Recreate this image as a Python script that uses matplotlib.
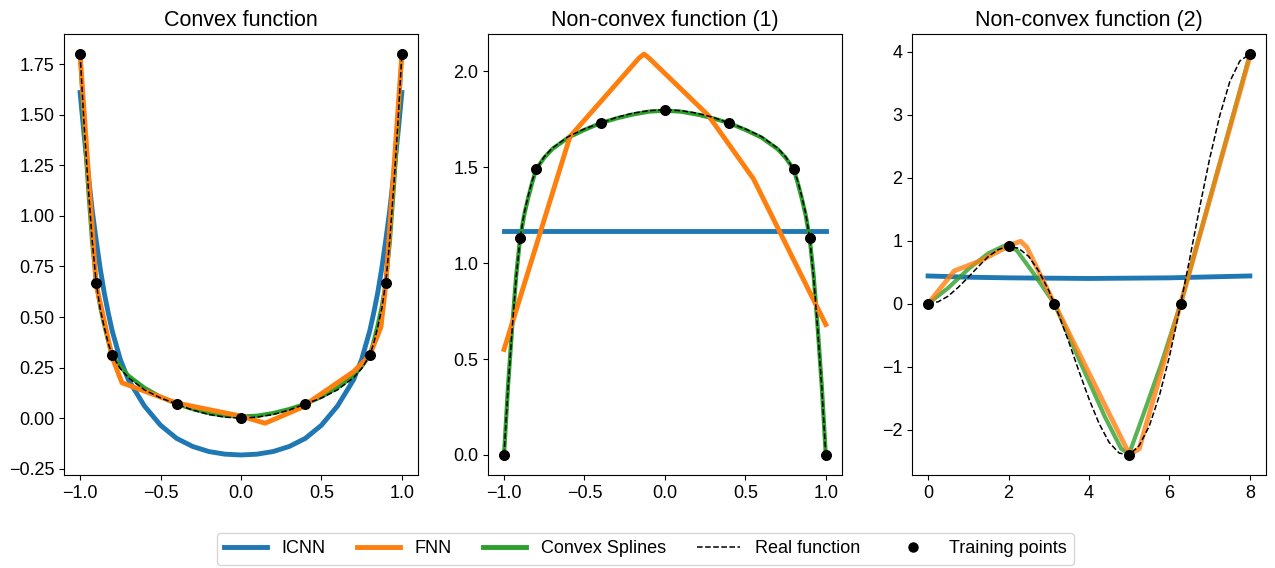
import matplotlib
matplotlib.use("Agg")
import matplotlib.pyplot as plt
from matplotlib.lines import Line2D

plt.rcParams['font.family'] = ['Liberation Sans', 'DejaVu Sans']

# === Panel 1: convex function ===
x1_pts = [-1, -0.9, -0.8, -0.4, 0, 0.4, 0.8, 0.9, 1]
y1_pts = [1.8, 0.67, 0.31, 0.07, 0, 0.07, 0.31, 0.67, 1.8]

x1_real = [-1, -0.975, -0.95, -0.925, -0.9, -0.875, -0.85, -0.825, -0.8, -0.75, -0.7, -0.6, -0.5,
           -0.4, -0.3, -0.2, -0.1, 0, 0.1, 0.2, 0.3, 0.4, 0.5, 0.6, 0.7, 0.75, 0.8, 0.825, 0.85,
           0.875, 0.9, 0.925, 0.95, 0.975, 1]
y1_real = [1.8, 1.45, 1.15, 0.88, 0.67, 0.54, 0.45, 0.37, 0.31, 0.245, 0.2, 0.14, 0.10,
           0.07, 0.04, 0.018, 0.005, 0, 0.005, 0.018, 0.04, 0.07, 0.10, 0.14, 0.2, 0.245, 0.31,
           0.37, 0.45, 0.54, 0.67, 0.88, 1.15, 1.45, 1.8]
y1_spline = [1.8, 1.44, 1.14, 0.87, 0.67, 0.55, 0.46, 0.38, 0.31, 0.255, 0.21, 0.15, 0.105,
             0.07, 0.045, 0.025, 0.012, 0.008, 0.012, 0.025, 0.045, 0.07, 0.105, 0.15, 0.21, 0.255,
             0.31, 0.38, 0.46, 0.55, 0.67, 0.87, 1.14, 1.44, 1.8]

x1_icnn = [-1, -0.975, -0.95, -0.925, -0.9, -0.875, -0.85, -0.825, -0.8, -0.75, -0.7, -0.6, -0.5,
           -0.4, -0.3, -0.2, -0.1, 0, 0.1, 0.2, 0.3, 0.4, 0.5, 0.6, 0.7, 0.75, 0.8, 0.825, 0.85,
           0.875, 0.9, 0.925, 0.95, 0.975, 1]
y1_icnn = [1.61, 1.40, 1.21, 1.03, 0.88, 0.74, 0.62, 0.52, 0.43, 0.29, 0.19, 0.06, -0.035,
           -0.10, -0.14, -0.165, -0.178, -0.182, -0.178, -0.165, -0.14, -0.10, -0.035, 0.06, 0.19,
           0.29, 0.43, 0.52, 0.62, 0.74, 0.88, 1.03, 1.21, 1.40, 1.61]

x1_fnn = [-1, -0.9, -0.8, -0.74, -0.4, 0.0, 0.15, 0.37, 0.7, 0.8, 0.87, 0.9, 1.0]
y1_fnn = [1.8, 0.66, 0.30, 0.175, 0.075, 0.01, -0.025, 0.05, 0.23, 0.31, 0.45, 0.66, 1.8]

# === Panel 2: non-convex function (1) ===
x2_pts = [-1, -0.9, -0.8, -0.4, 0, 0.4, 0.8, 0.9, 1]
y2_pts = [0, 1.13, 1.49, 1.73, 1.8, 1.73, 1.49, 1.13, 0]

x2_real = x1_real
y2_real = [0, 0.35, 0.65, 0.92, 1.13, 1.26, 1.35, 1.43, 1.49, 1.555, 1.6, 1.66, 1.70,
           1.73, 1.76, 1.782, 1.795, 1.8, 1.795, 1.782, 1.76, 1.73, 1.70, 1.66, 1.6, 1.555, 1.49,
           1.43, 1.35, 1.26, 1.13, 0.92, 0.65, 0.35, 0]
y2_spline = [0, 0.36, 0.66, 0.93, 1.13, 1.25, 1.34, 1.42, 1.49, 1.55, 1.595, 1.655, 1.695,
             1.73, 1.755, 1.775, 1.79, 1.795, 1.79, 1.775, 1.755, 1.73, 1.695, 1.655, 1.595, 1.55,
             1.49, 1.42, 1.34, 1.25, 1.13, 0.93, 0.66, 0.36, 0]

x2_icnn = [-1, 1]
y2_icnn = [1.17, 1.17]

x2_fnn = [-1, -0.59, -0.16, -0.13, -0.10, 0.27, 0.55, 1.0]
y2_fnn = [0.55, 1.66, 2.07, 2.09, 2.07, 1.77, 1.44, 0.68]

# === Panel 3: non-convex function (2) ===
x3_pts = [0, 2, 3.14, 5, 6.28, 8]
y3_pts = [0, 0.91, 0, -2.40, 0, 3.96]

x3_real = [0, 0.25, 0.5, 0.75, 1.0, 1.25, 1.5, 1.75, 2.0, 2.25, 2.5, 2.75, 3.0, 3.25, 3.5,
           3.75, 4.0, 4.25, 4.5, 4.75, 5.0, 5.25, 5.5, 5.75, 6.0, 6.25, 6.5, 6.75, 7.0, 7.25,
           7.5, 7.75, 8.0]
y3_real = [0, 0.03, 0.12, 0.26, 0.42, 0.59, 0.75, 0.86, 0.91, 0.88, 0.75, 0.52, 0.21, -0.18,
           -0.61, -1.07, -1.51, -1.90, -2.20, -2.37, -2.40, -2.25, -1.94, -1.46, -0.84, -0.10,
           0.70, 1.52, 2.30, 2.98, 3.52, 3.85, 3.96]

x3_icnn = [0, 1, 2, 3, 4, 5, 6, 7, 8]
y3_icnn = [0.44, 0.42, 0.41, 0.405, 0.40, 0.405, 0.41, 0.425, 0.44]

x3_fnn = [0, 0.65, 1.3, 2.05, 2.3, 2.45, 3.14, 4.95, 5.1, 5.25, 6.28, 8.0]
y3_fnn = [0.0, 0.52, 0.68, 0.93, 0.99, 0.9, 0.0, -2.32, -2.36, -2.3, 0.0, 3.92]

x3_spline = [0, 0.5, 1.0, 1.5, 1.9, 2.2, 2.6, 3.14, 3.8, 4.4, 4.8, 5.0, 5.3, 5.8, 6.28, 8.0]
y3_spline = [0, 0.25, 0.55, 0.80, 0.92, 0.85, 0.50, 0.0, -0.95, -1.80, -2.30, -2.38, -1.85, -0.95, 0.0, 3.95]

titles = ["Convex function", "Non-convex function (1)", "Non-convex function (2)"]
labels = ["ICNN", "FNN", "Convex Splines", "Real function", "Training points"]

panels = [
    (x1_icnn, y1_icnn, x1_fnn, y1_fnn, x1_real, y1_spline, x1_real, y1_real, x1_pts, y1_pts, 1.0),
    (x2_icnn, y2_icnn, x2_fnn, y2_fnn, x2_real, y2_spline, x2_real, y2_real, x2_pts, y2_pts, 1.0),
    (x3_icnn, y3_icnn, x3_fnn, y3_fnn, x3_spline, y3_spline, x3_real, y3_real, x3_pts, y3_pts, 0.8),
]

fig = plt.figure(figsize=(12.75, 5.68), dpi=100)
lefts = [0.0502, 0.3827, 0.7153]

for left, title, p in zip(lefts, titles, panels):
    xi, yi, xf, yf, xs, ys, xr, yr, xp, yp, a = p
    ax = fig.add_axes([left, 0.1637, 0.2776, 0.7764])
    ax.plot(xi, yi, color='tab:blue', lw=3.5, zorder=2)
    ax.plot(xs, ys, color='tab:green', lw=3, alpha=a, zorder=2)
    ax.plot(xf, yf, color='tab:orange', lw=3.5, alpha=a, zorder=3)
    ax.plot(xr, yr, color='black', lw=1.1, ls='--', zorder=4)
    ax.scatter(xp, yp, color='black', s=48, zorder=5)
    ax.set_title(title, fontsize=15.5)
    ax.tick_params(labelsize=13)

handles = [
    Line2D([], [], color='tab:blue', lw=3.5),
    Line2D([], [], color='tab:orange', lw=3.5),
    Line2D([], [], color='tab:green', lw=3.5),
    Line2D([], [], color='black', lw=1.1, ls='--'),
    Line2D([], [], color='black', marker='o', ls='none', ms=6.5),
]
fig.legend(handles, labels, loc='lower center', ncol=5, bbox_to_anchor=(0.506, -0.01),
           fontsize=13, handlelength=2.4, handletextpad=0.8, columnspacing=1.72)

plt.savefig("out.png", dpi=100)
